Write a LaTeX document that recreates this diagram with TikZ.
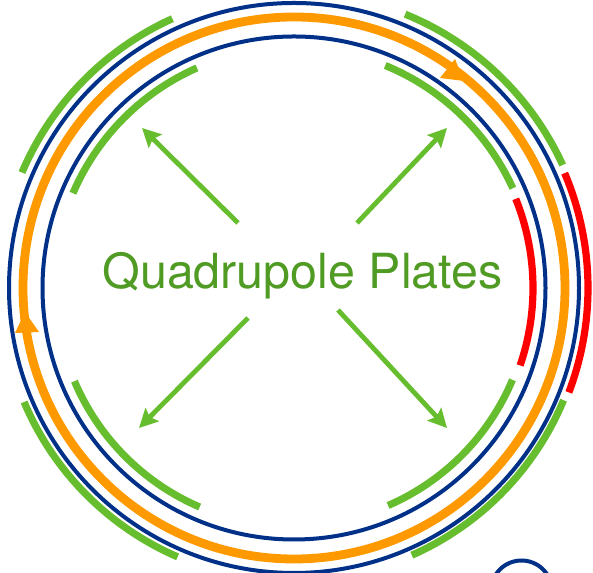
\documentclass[tikz,border=0pt]{standalone}
\usepackage{fontspec}
\setmainfont{TeX Gyre Heros}
\usetikzlibrary{arrows.meta,calc}
\definecolor{plategreen}{RGB}{102,190,46}
\definecolor{textgreen}{RGB}{80,155,35}
\definecolor{ringblue}{RGB}{0,48,135}
\definecolor{beamorange}{RGB}{255,153,0}
\definecolor{platered}{RGB}{255,0,0}
\tikzset{
  x=0.75pt,y=0.75pt,
  greenplate/.style={draw=plategreen,line width=5.4pt},
  redplate/.style={draw=platered,line width=5.4pt},
  ring/.style={draw=ringblue,line width=3pt},
  beam/.style={draw=beamorange,line width=6.6pt},
  outarrow/.style={draw=plategreen,line width=3.6pt,-{Stealth[length=14pt,width=14pt,inset=2.5pt]}},
  beamhead/.style={fill=beamorange,draw=none},
  title/.style={text=textgreen,font=\fontsize{36.3pt}{40pt}\selectfont,anchor=base,inner sep=0pt}
}
\begin{document}
\begin{tikzpicture}
\useasboundingbox (0,0) rectangle (593,573);
\begin{scope}
\clip (0,0) rectangle (593,573);
\coordinate (c) at (294,285);
\draw[ring] (c) circle[radius=285];
\draw[ring] (c) circle[radius=251.5];
\draw[beam] (c) circle[radius=271];
\draw[ring] (521.5,-18) circle[radius=30.5];
\foreach \a/\b/\r in {67.9/24.6/295.5,114.3/157/295.5,202.9/246.6/293,-22.6/-66.2/292,
  67.7/24.5/240.5,113.8/156.8/240.5,203/246.7/238.5,-22.8/-66.6/237}{
  \draw[greenplate] ($(c)+(\a:\r)$) arc[start angle=\a,end angle=\b,radius=\r];
}
\foreach \a/\b/\r in {23/-20.8/294,21.9/-18.9/239}{
  \draw[redplate] ($(c)+(\a:\r)$) arc[start angle=\a,end angle=\b,radius=\r];
}
\fill[beamhead] (464,492) -- (455,514) -- (440,495) -- cycle;
\fill[beamhead] (25,261) -- (15,240) -- (39,241) -- cycle;
\end{scope}
\coordinate (urT) at (357,350); \coordinate (urH) at (447,445);
\coordinate (ulT) at (238,350); \coordinate (ulH) at (142,445);
\coordinate (llT) at (248,255); \coordinate (llH) at (139,145);
\coordinate (lrT) at (338,263); \coordinate (lrH) at (447,145);
\draw[outarrow] (urT) -- (urH);
\draw[outarrow] (ulT) -- (ulH);
\draw[outarrow] (llT) -- (llH);
\draw[outarrow] (lrT) -- (lrH);
\node[title] (label) at (302.5,284) {Quadrupole Plates};
\end{tikzpicture}
\end{document}
